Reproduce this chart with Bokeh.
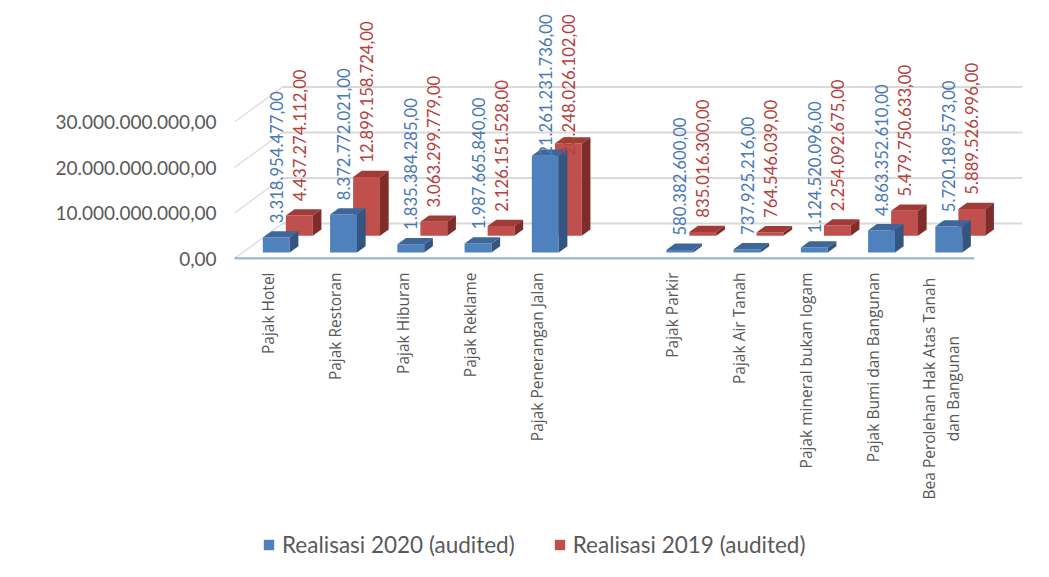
import math
from bokeh.plotting import figure
from bokeh.models import Range1d, FixedTicker, ColumnDataSource, Legend, LegendItem
from bokeh.core.properties import value
from bokeh.embed import file_html
from bokeh.resources import INLINE

# ---------------- data ----------------
categories = ["Pajak Hotel", "Pajak Restoran", "Pajak Hiburan", "Pajak Reklame",
              "Pajak Penerangan Jalan", "", "Pajak Parkir", "Pajak Air Tanah",
              "Pajak mineral bukan logam", "Pajak Bumi dan Bangunan",
              "Bea Perolehan Hak Atas Tanah\ndan Bangunan"]
realisasi_2020 = [3318954477, 8372772021, 1835384285, 1987665840, 21261231736, None,
                  580382600, 737925216, 1124520096, 4863352610, 5720189573]
realisasi_2019 = [4437274112, 12899158724, 3063299779, 2126151528, 20248026102, None,
                  835016300, 764546039, 2254092675, 5479750633, 5889526996]
series_names = ["Realisasi 2020 (audited)", "Realisasi 2019 (audited)"]
y_ticks = [0, 10000000000, 20000000000, 30000000000]

# ---------------- styling / projection ----------------
W, H = 1033, 561
LEFT, TOP = 234, 10
ZERO_FIG_Y = 258                 # figure-pixel row of value 0 on front plane
PXC = 67.25                      # px per category
PXV = 4.55e-9                    # px per unit value
DXD = 48 / PXC                   # back-wall depth, x (category units)
DYD = 35 / PXV                   # back-wall depth, y (value units)
HW = 0.2                         # half bar width (category units)

def proj(x, v, d):
    return x + d * DXD, v + d * DYD

def fmt(v):
    s = f"{v:,.2f}"
    return s.replace(",", "X").replace(".", ",").replace("X", ".")

x0 = -0.5
x1 = x0 + (W - LEFT) / PXC
y_end = ZERO_FIG_Y - TOP
y_start = -(H - ZERO_FIG_Y)

p = figure(width=W, height=H, output_backend="svg", toolbar_location=None,
           x_range=Range1d(x0, x1), y_range=Range1d(y_start / PXV, y_end / PXV),
           x_axis_location=None, min_border_left=LEFT, min_border_top=TOP,
           min_border_right=0, min_border_bottom=0)
p.outline_line_color = None
p.grid.grid_line_color = None
p.background_fill_color = "white"
p.border_fill_color = "white"

ax = p.yaxis[0]
ax.ticker = FixedTicker(ticks=y_ticks)
ax.major_label_overrides = {t: fmt(t) for t in y_ticks}
ax.axis_line_color = None
ax.major_tick_line_color = None
ax.minor_tick_line_color = None
ax.major_tick_out = 0
ax.major_tick_in = 0
ax.major_label_standoff = 18
ax.major_label_text_font = "Lato"
ax.major_label_text_font_size = "19px"
ax.major_label_text_color = "#595959"

n = len(categories)
grid_color = "#d9d9d9"
# back wall gridlines and side wall diagonals
for t in y_ticks:
    ax_, ay_ = proj(-0.5, t, 1)
    bx_, by_ = proj(n - 0.5, t, 1)
    p.line([ax_, bx_], [ay_, by_], line_color=grid_color, line_width=2)
    cx_, cy_ = proj(-0.5, t, 0)
    p.line([cx_, ax_], [cy_, ay_], line_color=grid_color, line_width=1.2)

# floor front edge
p.line([-0.5, n - 0.5], [0, 0], line_color="#5a8ac6", line_width=2)
p.line([-0.5, n - 0.5], [-0.7 / PXV, -0.7 / PXV], line_color="#d5e1f0", line_width=1.5)

series = [
    dict(name=series_names[1], vals=realisasi_2019, d0=0.65, d1=0.83,
         front="#c0504d", top="#a13b38", side="#7e2d2b", text="#b5403c"),
    dict(name=series_names[0], vals=realisasi_2020, d0=0.17, d1=0.35,
         front="#4f81bd", top="#3d6699", side="#34557f", text="#4a78b4"),
]

legend_items = {}
LABEL_CHAR_PX = 8.25
top_limit = (ZERO_FIG_Y - 15) / PXV   # keep labels inside chart top
for s in series:
    d0, d1 = s["d0"], s["d1"]
    L, R, B, T = [], [], [], []
    txs, tys, sxs, sys_ = [], [], [], []
    lx, ly, lt = [], [], []
    for i, v in enumerate(s["vals"]):
        if v is None:
            continue
        fl, fb = proj(i - HW, 0, d0)
        fr, ft = proj(i + HW, v, d0)
        L.append(fl); R.append(fr); B.append(fb); T.append(ft)
        c = [proj(i - HW, v, d0), proj(i + HW, v, d0), proj(i + HW, v, d1), proj(i - HW, v, d1)]
        txs.append([q[0] for q in c]); tys.append([q[1] for q in c])
        c = [proj(i + HW, 0, d0), proj(i + HW, 0, d1), proj(i + HW, v, d1), proj(i + HW, v, d0)]
        sxs.append([q[0] for q in c]); sys_.append([q[1] for q in c])
        txt = fmt(v)
        ax_l, _ = proj(i, v, d0)
        _, ay_l = proj(i, v, d1)
        ay_l += 8 / PXV
        length = len(txt) * LABEL_CHAR_PX / PXV
        if ay_l + length > top_limit:
            ay_l = top_limit - length
        lx.append(ax_l); ly.append(ay_l); lt.append(txt)
    s["lab"] = ColumnDataSource(dict(x=lx, y=ly, text=lt))
    r = p.quad(left=L, right=R, bottom=B, top=T, fill_color=s["front"], line_color=None)
    p.patches(txs, tys, fill_color=s["top"], line_color=None)
    p.patches(sxs, sys_, fill_color=s["side"], line_color=None)
    legend_items[s["name"]] = r

for s in series:
    p.text(x="x", y="y", text="text", source=s["lab"], angle=math.pi / 2,
           text_align="left", text_baseline="middle", text_color=s["text"],
           text_font=value("Lato"), text_font_size=value("16.7px"))

# category labels
CAT_FONT_PX = 15.5
lab_y = -14 / PXV
single = [(i, c) for i, c in enumerate(categories) if c and "\n" not in c]
multi = [(i, c) for i, c in enumerate(categories) if "\n" in c]
p.text(x=[i for i, _ in single], y=[lab_y] * len(single), text=[c for _, c in single],
       angle=math.pi / 2, text_align="right", text_baseline="middle",
       text_color="#595959", text_font=value("Open Sans"),
       text_font_size=value(f"{CAT_FONT_PX}px"))
if multi:
    mys = []
    for i, c in multi:
        longest = max(len(line) for line in c.split("\n"))
        mys.append(lab_y - longest * 0.535 * CAT_FONT_PX / 2 / PXV)
    p.text(x=[i for i, _ in multi], y=mys, text=[c for _, c in multi],
           angle=math.pi / 2, text_align="center", text_baseline="middle",
           text_line_height=1.1,
           text_color="#595959", text_font=value("Open Sans"),
           text_font_size=value(f"{CAT_FONT_PX}px"))

legend = Legend(items=[LegendItem(label=series_names[0], renderers=[legend_items[series_names[0]]]),
                       LegendItem(label=series_names[1], renderers=[legend_items[series_names[1]]])],
                orientation="horizontal", location=(28, 3))
legend.border_line_color = None
legend.background_fill_alpha = 0
legend.padding = 0
legend.margin = 0
legend.spacing = 38
legend.label_standoff = 7
legend.glyph_width = 13
legend.glyph_height = 13
legend.label_text_font = "Lato"
legend.label_text_font_size = "22.5px"
legend.label_text_color = "#595959"
p.add_layout(legend)

open("out.html", "w").write(file_html(p, INLINE))
